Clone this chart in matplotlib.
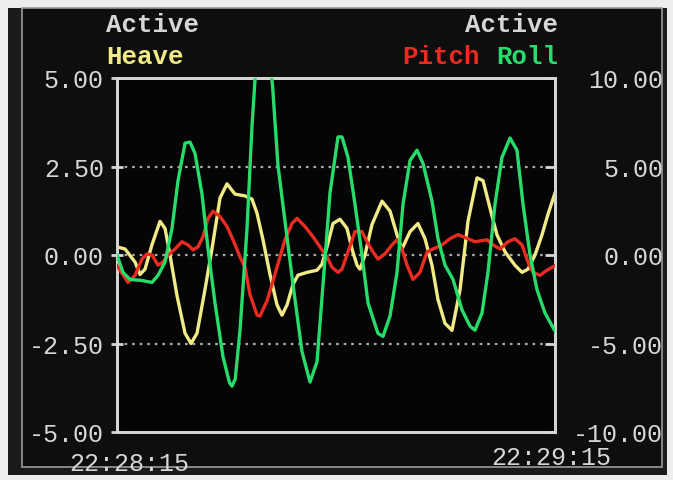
import matplotlib
matplotlib.use("Agg")
import matplotlib.pyplot as plt
from matplotlib.patches import Rectangle

# Time axis (seconds since 22:28:15)
heave_t = [0.0, 1.1, 2.47, 3.15, 3.84, 4.79, 5.89, 6.58, 7.26, 8.22, 9.32, 10.14, 10.96,
           12.05, 13.01, 14.11, 15.07, 16.16, 17.53, 18.49, 19.18, 20.0, 20.96, 21.92,
           22.6, 23.29, 24.11, 24.79, 26.03, 27.4, 28.08, 28.77, 29.59, 30.55, 31.51,
           32.19, 32.88, 33.29, 33.97, 34.93, 36.3, 37.4, 38.36, 39.04, 40.14, 41.23,
           42.19, 43.15, 43.97, 44.93, 45.89, 46.99, 48.08, 49.32, 50.14, 51.1, 52.05,
           53.15, 54.52, 55.48, 56.3, 57.26, 58.22, 59.04, 60.0]
heave = [0.23, 0.17, -0.2, -0.55, -0.4, 0.29, 0.95, 0.75, 0.0, -1.15, -2.21, -2.5, -2.21,
         -0.98, 0.17, 1.61, 2.01, 1.72, 1.67, 1.58, 1.18, 0.43, -0.55, -1.41,
         -1.7, -1.41, -0.83, -0.57, -0.49, -0.43, -0.26, 0.23, 0.89, 1.01, 0.75,
         0.17, -0.29, -0.4, 0.0, 0.86, 1.52, 1.24, 0.57, 0.17, 0.66, 0.89,
         0.46, -0.29, -1.26, -1.93, -2.13, -0.98, 0.95, 2.18, 2.1, 1.32, 0.57,
         0.09, -0.29, -0.49, -0.4, 0.0, 0.57, 1.15, 1.75]

pitch_t = [0.0, 1.5, 2.47, 3.42, 4.11, 4.79, 5.62, 6.3, 6.99, 7.95, 8.9, 9.73, 10.41,
           11.1, 11.78, 12.47, 13.15, 14.11, 15.07, 15.89, 16.85, 17.53, 18.22, 19.18,
           19.59, 20.55, 21.64, 23.01, 23.97, 24.66, 25.75, 26.85, 27.81, 28.77, 29.45,
           30.27, 30.82, 31.64, 32.6, 33.56, 34.25, 35.07, 35.75, 36.71, 37.67, 38.36,
           39.04, 39.73, 40.55, 41.51, 42.47, 43.29, 44.52, 45.62, 46.71, 48.08, 49.04,
           50.68, 51.51, 52.47, 53.56, 54.52, 55.48, 56.3, 56.99, 57.95, 58.9, 60.0]
pitch = [-0.6, -1.55, -1.15, -0.23, 0.06, 0.0, -0.57, -0.4, 0.0, 0.34, 0.75, 0.57, 0.29,
         0.46, 1.03, 2.07, 2.47, 2.18, 1.61, 0.86, -0.11, -0.69, -2.24, -3.39,
         -3.45, -2.59, -1.09, 0.86, 1.78, 2.07, 1.61, 1.03, 0.46, -0.11, -0.69,
         -0.98, -0.8, 0.17, 1.32, 1.32, 0.75, 0.17, -0.23, 0.06, 0.57, 0.86,
         0.34, -0.57, -1.38, -0.98, 0.17, 0.34, 0.57, 0.92, 1.15, 0.92, 0.75,
         0.86, 0.57, 0.34, 0.75, 0.92, 0.57, -0.4, -0.98, -1.15, -0.86, -0.6]

roll_t = [0.0, 0.82, 1.78, 3.42, 4.79, 5.62, 6.58, 7.53, 8.36, 9.32, 10.0, 10.68, 11.64,
          12.47, 13.42, 14.52, 15.4, 15.75, 16.2, 16.85, 17.81, 18.49, 19.2, 19.9, 20.6,
          21.3, 22.05, 23.29, 24.11, 25.34, 26.44, 27.4, 28.22, 29.18, 30.27, 30.82,
          31.64, 32.6, 33.56, 34.38, 35.75, 36.44, 37.4, 38.36, 39.18, 40.14, 41.1,
          41.92, 43.15, 43.97, 44.93, 46.03, 47.26, 48.36, 49.04, 50.0, 50.82, 51.78,
          52.74, 53.84, 54.79, 55.62, 56.58, 57.53, 58.63, 60.0]
roll = [0.0, -0.98, -1.38, -1.44, -1.55, -1.15, -0.4, 1.49, 4.2, 6.32, 6.38, 5.75, 3.45,
        0.34, -2.7, -5.75, -7.2, -7.41, -7.0, -4.25, 1.49, 7.24, 11.8, 13.2, 12.2,
        9.6, 5.06, 1.0, -1.67, -5.46, -7.18, -6.03, -1.67, 3.51, 6.67, 6.67,
        5.52, 2.87, 0.0, -2.7, -4.43, -4.6, -3.45, -0.98, 2.87, 5.34, 5.92,
        5.17, 3.05, 0.92, -0.57, -1.38, -3.1, -4.02, -4.25, -3.28, -0.98, 2.87,
        5.52, 6.61, 5.92, 2.87, 0.0, -1.95, -3.28, -4.3]

left_ticks = [-5.0, -2.5, 0.0, 2.5, 5.0]
right_ticks = [-10.0, -5.0, 0.0, 5.0, 10.0]
time_labels = ["22:28:15", "22:29:15"]

W, H = 673, 481
MONO = ["Liberation Mono", "DejaVu Sans Mono"]
FG = "#d6d6d6"
YEL = "#f2ea86"
RED = "#ea2b22"
GRN = "#27dc6a"

fig = plt.figure(figsize=(W / 100, H / 100), dpi=100)
fig.patch.set_facecolor("#ededed")

# monitor bezel and screen
fig.patches.append(Rectangle((8 / W, 1 - 476 / H), 659 / W, 467 / H,
                             transform=fig.transFigure, facecolor="#1b1b1b",
                             edgecolor="none", zorder=-2))
fig.patches.append(Rectangle((22 / W, 1 - 468 / H), 640 / W, 459 / H,
                             transform=fig.transFigure, facecolor="#0e0e0e",
                             edgecolor="#9a9a9a", linewidth=1.2, zorder=-1))

ax = fig.add_axes([117 / W, 1 - 433 / H, (555 - 117) / W, (433 - 79) / H])
ax.set_facecolor("#050505")
ax2 = ax.twinx()
ax.set_zorder(1)
ax2.set_zorder(2)
ax2.patch.set_visible(False)

ax.set_xlim(0, 60)
ax.set_ylim(-5, 5)
ax2.set_ylim(-10, 10)

for s in ax.spines.values():
    s.set_color(FG)
    s.set_linewidth(2)
for s in ax2.spines.values():
    s.set_color(FG)
    s.set_linewidth(2)

# dotted grid
for v in left_ticks[1:-1]:
    ax.axhline(v, color="#a8a8a8", lw=1.6, ls=(0, (1.2, 2.2)), zorder=1)

ax.plot(heave_t, heave, color=YEL, lw=2.4, zorder=3, solid_joinstyle="round")
ax2.plot(pitch_t, pitch, color=RED, lw=2.4, zorder=3, solid_joinstyle="round")
ax2.plot(roll_t, roll, color=GRN, lw=2.4, zorder=4, solid_joinstyle="round")

ax.set_yticks(left_ticks)
ax.set_yticklabels([f"{v:.2f}" for v in left_ticks], family=MONO, fontsize=18, color=FG)
ax.tick_params(axis="y", direction="inout", length=9, width=2, color=FG, pad=5)

ax2.set_yticks(right_ticks)
ax2.set_yticklabels([f"{v:.2f}" for v in right_ticks], family=MONO, fontsize=18, color=FG)
ax2.tick_params(axis="y", direction="in", length=7, width=2, color=FG, pad=78)
for lab in ax2.get_yticklabels():
    lab.set_horizontalalignment("right")

ax.set_xticks([])

# time stamps under the axis ends
ax.annotate(time_labels[0], xy=(0, 0), xycoords=("data", "axes fraction"),
            xytext=(9, -22), textcoords="offset points", ha="center", va="center",
            family=MONO, fontsize=18, color=FG)
ax.annotate(time_labels[1], xy=(60, 0), xycoords=("data", "axes fraction"),
            xytext=(-3, -18), textcoords="offset points", ha="center", va="center",
            family=MONO, fontsize=18, color=FG)

# channel headers
def ftext(x, y, s, color, ha):
    fig.text(x / W, 1 - y / H, s, color=color, ha=ha, va="center",
             family=MONO, fontsize=18.5, fontweight="bold")

ftext(106, 25, "Active", FG, "left")
ftext(106, 57, "Heave", YEL, "left")
ftext(558, 25, "Active", FG, "right")
ftext(558, 57, "Roll", GRN, "right")
ftext(480, 57, "Pitch", RED, "right")

fig.savefig("out.png", dpi=100, facecolor=fig.get_facecolor())
